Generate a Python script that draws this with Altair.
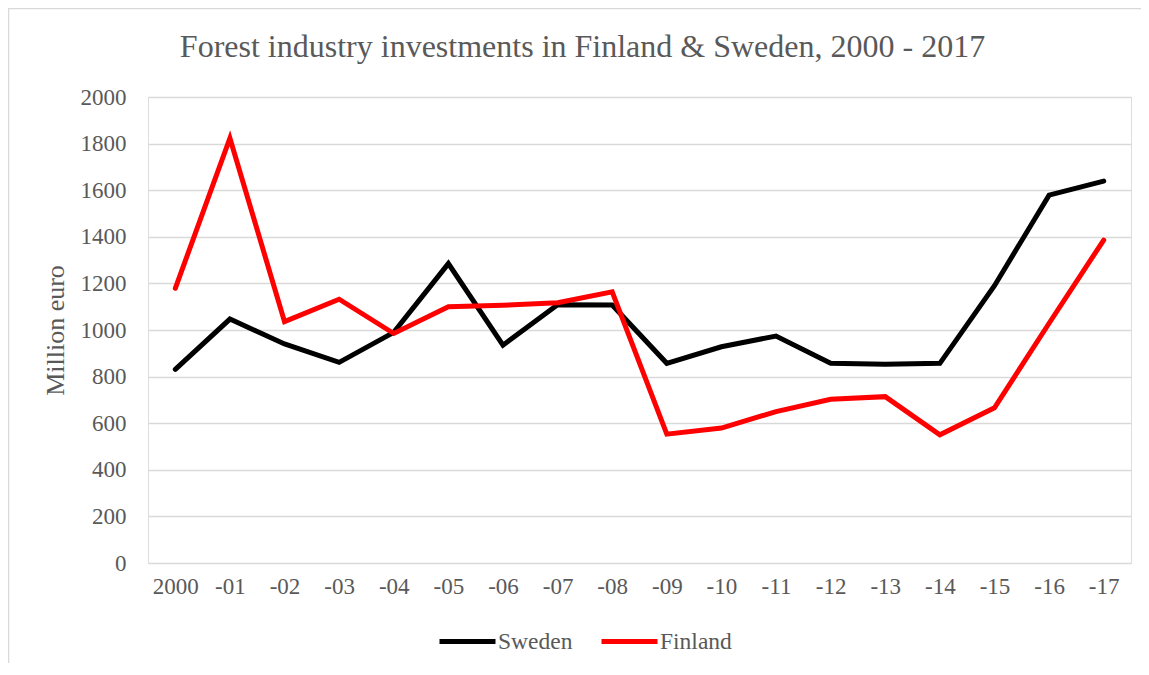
import altair as alt
import pandas as pd

years = ["2000", "-01", "-02", "-03", "-04", "-05", "-06", "-07", "-08",
         "-09", "-10", "-11", "-12", "-13", "-14", "-15", "-16", "-17"]
sweden = [831, 1047, 940, 861, 990, 1285, 935, 1108, 1107,
          857, 928, 974, 857, 853, 857, 1190, 1579, 1639]
finland = [1179, 1823, 1036, 1132, 985, 1100, 1106, 1117, 1164,
           553, 579, 650, 703, 714, 550, 666, 1029, 1386]

series_names = ["Sweden", "Finland"]
series_colors = ["#000000", "#ff0000"]

df = pd.DataFrame({
    "year": years * 2,
    "value": sweden + finland,
    "series": ["Sweden"] * len(years) + ["Finland"] * len(years),
})

FONT = "Liberation Serif"
GREY = "#595959"

x_enc = alt.X("year:O", sort=years,
              scale=alt.Scale(type="point", padding=0.5),
              axis=alt.Axis(title=None, labelAngle=0, domain=False, ticks=False,
                            grid=False, labelPadding=12, labelFontSize=23,
                            labelColor=GREY, labelFont=FONT))
y_enc = alt.Y("value:Q",
              scale=alt.Scale(domain=[0, 2000], nice=False),
              axis=alt.Axis(title="Million euro", values=list(range(0, 2001, 200)),
                            format="d",
                            domain=False, ticks=False, tickSize=0, labelPadding=22,
                            labelFontSize=23, labelColor=GREY, labelFont=FONT,
                            titleFont=FONT, titleFontSize=26, titleColor=GREY,
                            titleFontWeight="normal", titlePadding=12,
                            gridColor="#d9d9d9", gridWidth=1.3))
color_enc = alt.Color("series:N",
                      scale=alt.Scale(domain=series_names, range=series_colors),
                      legend=alt.Legend(title=None, orient="none", direction="horizontal",
                                        legendX=289, legendY=514,
                                        symbolType="stroke", symbolSize=3136,
                                        symbolStrokeWidth=5, labelOffset=0,
                                        columnPadding=18, labelFontSize=23.5,
                                        labelColor=GREY, labelFont=FONT))

frame = alt.Chart(alt.Data(values=[{"a": 1}])).mark_rect(
    fillOpacity=0, stroke="#d9d9d9", strokeWidth=1.5
).encode(x=alt.value(-139.5), x2=alt.value(1200), y=alt.value(-88.5), y2=alt.value(700))

base = alt.Chart(df)
line_sw = base.transform_filter(alt.datum.series == "Sweden").mark_line(
    strokeWidth=5, strokeCap="round").encode(x=x_enc, y=y_enc, color=color_enc)
line_fi = base.transform_filter(alt.datum.series == "Finland").mark_line(
    strokeWidth=5, strokeCap="round").encode(x=x_enc, y=y_enc, color=color_enc)

chart = alt.layer(frame, line_sw, line_fi).properties(
    width=983, height=466,
    title=alt.TitleParams("Forest industry investments in Finland & Sweden, 2000 - 2017",
                          font=FONT, fontSize=32, color=GREY, fontWeight="normal",
                          anchor="middle", dx=-57, dy=56, offset=0),
    autosize=alt.AutoSizeParams(type="none"),
    padding={"left": 140, "top": 89, "right": 10, "bottom": 100},
).configure_view(stroke=None).configure(background="white")

chart.save("out.html", embed_options={"renderer": "svg", "actions": False})
